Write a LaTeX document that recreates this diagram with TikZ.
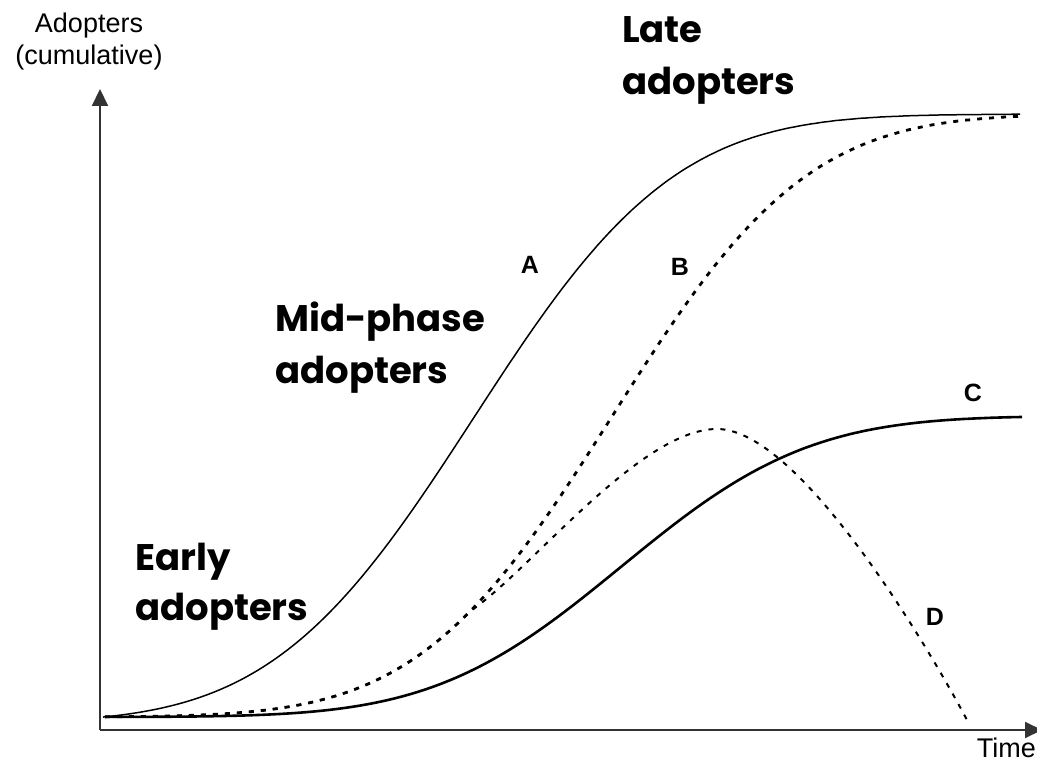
\documentclass[tikz,border=0pt]{standalone}
\usepackage{fontspec}
\setmainfont{Liberation Sans}
\newfontfamily\phasefont{Poppins}
\usetikzlibrary{arrows.meta}
\tikzset{
  axis/.style={line width=2pt, color=black!80, -{Triangle[length=17pt,width=16pt]}},
  axislabel/.style={font=\fontsize{27}{32}\selectfont, anchor=base},
  phase/.style={font=\phasefont\bfseries\fontsize{37}{52}\selectfont, anchor=base west, inner sep=0pt},
  curvelabel/.style={font=\bfseries\fontsize{25}{29}\selectfont, inner sep=0pt},
  curveA/.style={line width=1.5pt, black},
  curveC/.style={line width=2.6pt, black},
  curveB/.style={line width=2.8pt, black, dash pattern=on 5pt off 7pt},
  curveD/.style={line width=2pt, black, dash pattern=on 5pt off 7pt},
}
% approximate cumulative normal
\pgfmathdeclarefunction{cnorm}{1}{%
  \pgfmathparse{1/(1+exp(-(1.5976*#1+0.07056*#1*#1*#1)))}%
}
\begin{document}
\begin{tikzpicture}[x=1pt, y=-1pt]
\useasboundingbox (0,0) rectangle (1037,762);
\fill[white] (0,0) rectangle (1037,762);
% axes
\coordinate (O) at (100,730);
\coordinate (ytip) at (100,89);
\coordinate (xtip) at (1042,730);
\draw[axis] (O) -- (ytip);
\draw[axis] (O) -- (xtip);
\node[axislabel] (ylab1) at (89,33) {Adopters};
\node[axislabel] (ylab2) at (89,65) {(cumulative)};
\node[font=\fontsize{27}{32}\selectfont, anchor=base east, inner sep=0pt] (xlab) at (1036,757) {Time};
% curve A
\draw[curveA] plot[domain=103:1020, samples=220, smooth] (\x, {717 - 603*(cnorm((\x-473.3)/157.9)-0.0095)/0.9905});
% curve C
\draw[curveC] plot[domain=105:1022, samples=220, smooth] (\x, {717 - 301*cnorm((\x-621.4)/147.2)});
% curve B
\draw[curveB] plot[domain=105:1020, samples=220, smooth] (\x, {717 - 603*cnorm((\x-612.6)/152.7)});
% curve D
\draw[curveD] plot[domain=105:470, samples=90, smooth] (\x, {717 - 603*cnorm((\x-612.6)/152.7)})
   .. controls (530,571) and (640,429) .. (717,429)
   .. controls (800,429) and (930,650) .. (967,720);
% curve labels
\node[curvelabel] (labA) at (530,265) {A};
\node[curvelabel] (labB) at (680,267) {B};
\node[curvelabel] (labC) at (973,393) {C};
\node[curvelabel] (labD) at (935,617) {D};
% phase labels
\node[phase] (late1) at (622,43) {Late};
\node[phase] (late2) at (622,95) {adopters};
\node[phase] (mid1) at (275,332) {Mid-phase};
\node[phase] (mid2) at (275,383) {adopters};
\node[phase] (early1) at (135,570) {Early};
\node[phase] (early2) at (135,620) {adopters};
\end{tikzpicture}
\end{document}
